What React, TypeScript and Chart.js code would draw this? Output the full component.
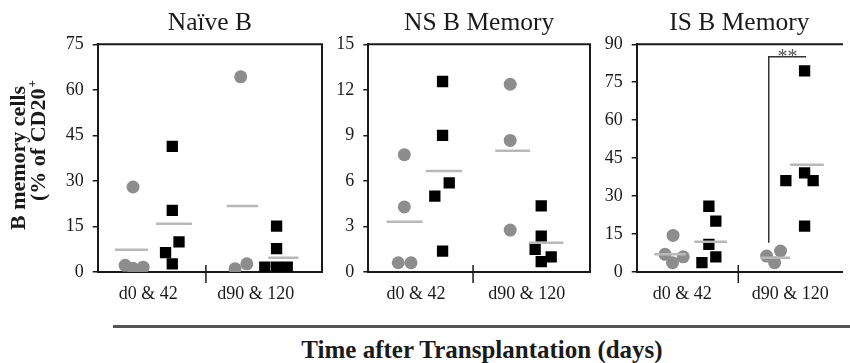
import React, { useEffect, useRef } from "react";
import { Chart, registerables } from "chart.js";

Chart.register(...registerables);

// ---------- data ----------
const panelTitles = ["Naïve B", "NS B Memory", "IS B Memory"];
const groupLabels = ["d0 & 42", "d90 & 120"];
const yTitleLines = ["B memory cells", "(% of CD20"];
const yTitleSup = "+";
const xAxisTitle = "Time after Transplantation (days)";
const yMax = [75, 15, 90];
const yStep = [15, 3, 15];
const xMax = [4.0, 4.0, 3.84];
const groupDivider = [1.93, 1.89, 1.9];
const groupLabelPos = [
  [0.9, 2.82],
  [0.86, 2.86],
  [0.85, 2.87],
];

// Naïve B
const naiveGrayX = [0.63, 0.49, 0.63, 0.81, 2.55, 2.66, 2.45];
const naiveGrayY = [28, 2.2, 1.2, 1.6, 64.3, 2.7, 1.1];
const naiveBlackX = [1.33, 1.33, 1.45, 1.21, 1.33, 3.19, 3.19, 2.98, 3.19, 3.38];
const naiveBlackY = [41.4, 20.3, 9.9, 6.4, 2.7, 15.1, 7.7, 1.6, 1.6, 1.6];
const naiveMeans = [7.3, 15.9, 21.7, 4.7];
const naiveMeanFrom = [0.31, 1.04, 2.3, 3.04];
const naiveMeanTo = [0.9, 1.68, 2.86, 3.58];

// NS B Memory
const nsGrayX = [0.65, 0.65, 0.54, 0.77, 2.56, 2.56, 2.56];
const nsGrayY = [7.73, 4.29, 0.61, 0.61, 12.37, 8.67, 2.76];
const nsBlackX = [1.34, 1.34, 1.46, 1.2, 1.34, 3.12, 3.12, 3.01, 3.3, 3.12];
const nsBlackY = [12.55, 9.0, 5.87, 5.0, 1.38, 4.36, 2.36, 1.49, 1.0, 0.68];
const nsMeans = [3.31, 6.66, 7.99, 1.93];
const nsMeanFrom = [0.33, 1.04, 2.29, 2.9];
const nsMeanTo = [0.98, 1.69, 2.92, 3.52];

// IS B Memory
const isGrayX = [0.68, 0.53, 0.87, 0.67, 2.43, 2.69, 2.58];
const isGrayY = [14.45, 7.0, 6.0, 3.7, 6.3, 8.3, 3.7];
const isBlackX = [1.35, 1.48, 1.35, 1.48, 1.22, 3.14, 3.14, 2.79, 3.3, 3.14];
const isBlackY = [26.0, 20.1, 10.9, 6.0, 3.7, 79.5, 39.2, 36.1, 36.1, 18.1];
const isMeans = [7.0, 12.0, 5.65, 42.4];
const isMeanFrom = [0.33, 1.08, 2.31, 2.87];
const isMeanTo = [0.92, 1.69, 2.87, 3.5];
const isBracketX = [2.47, 2.47, 3.17];
const isBracketY = [11.6, 85.1, 85.1];
const isSigLabel = "**";
const isSigX = 2.82;
const isSigY = 82.5;

// ---------- layout / style ----------
const SERIF = '"Liberation Serif", "Times New Roman", serif';
const INK = "#1a1a1a";
const GRAY_DOT = "#8d8d8d";
const MEAN_GRAY = "#b9b9b9";

const panelLayout = [
  { left: 0, width: 330, axisW: 97.7, padR: 8, rightBorder: true },
  { left: 330, width: 268, axisW: 38.3, padR: 8, rightBorder: true },
  { left: 598, width: 252, axisW: 38.7, padR: 0, rightBorder: false },
];
const CANVAS_H = 310;

const panelData = [
  { gx: naiveGrayX, gy: naiveGrayY, bx: naiveBlackX, by: naiveBlackY, m: naiveMeans, mf: naiveMeanFrom, mt: naiveMeanTo },
  { gx: nsGrayX, gy: nsGrayY, bx: nsBlackX, by: nsBlackY, m: nsMeans, mf: nsMeanFrom, mt: nsMeanTo },
  { gx: isGrayX, gy: isGrayY, bx: isBlackX, by: isBlackY, m: isMeans, mf: isMeanFrom, mt: isMeanTo },
];

const zip = (xs: number[], ys: number[]) => xs.map((x, i) => ({ x, y: ys[i] }));

function buildChart(canvas: HTMLCanvasElement, p: number) {
  const d = panelData[p];
  const lay = panelLayout[p];
  const datasets: any[] = [];

  d.m.forEach((mv, i) => {
    datasets.push({
      data: [
        { x: d.mf[i], y: mv },
        { x: d.mt[i], y: mv },
      ],
      showLine: true,
      pointRadius: 0,
      borderColor: MEAN_GRAY,
      borderWidth: 2.5,
    });
  });
  if (p === 2) {
    datasets.push({
      data: zip(isBracketX, isBracketY),
      showLine: true,
      pointRadius: 0,
      borderColor: "#333",
      borderWidth: 1.5,
      tension: 0,
    });
  }
  datasets.push({
    data: zip(d.bx, d.by),
    pointStyle: "rect",
    pointRadius: 8,
    backgroundColor: "#000",
    borderWidth: 0,
  });
  datasets.push({
    data: zip(d.gx, d.gy),
    pointStyle: "circle",
    pointRadius: 6.5,
    backgroundColor: GRAY_DOT,
    borderWidth: 0,
  });

  const decor = {
    id: "decor" + p,
    afterDraw(chart: any) {
      const { ctx, chartArea } = chart;
      const xs = chart.scales.x;
      const ys = chart.scales.y;
      ctx.save();
      ctx.strokeStyle = INK;
      ctx.lineWidth = 2;
      ctx.beginPath();
      ctx.moveTo(chartArea.left - 1, chartArea.top);
      ctx.lineTo(chartArea.right + 1, chartArea.top);
      if (lay.rightBorder) {
        ctx.moveTo(chartArea.right, chartArea.top);
        ctx.lineTo(chartArea.right, chartArea.bottom);
      }
      ctx.stroke();
      // group divider tick
      const dx = xs.getPixelForValue(groupDivider[p]);
      ctx.lineWidth = 1.5;
      ctx.beginPath();
      ctx.moveTo(dx, chartArea.bottom - 7);
      ctx.lineTo(dx, chartArea.bottom + 11);
      ctx.stroke();
      if (p === 2) {
        ctx.fillStyle = "#555";
        ctx.font = `20px ${SERIF}`;
        ctx.textAlign = "center";
        ctx.textBaseline = "alphabetic";
        ctx.fillText(isSigLabel, xs.getPixelForValue(isSigX), ys.getPixelForValue(isSigY));
      }
      if (p === 0) {
        ctx.fillStyle = INK;
        ctx.font = `bold 22px ${SERIF}`;
        ctx.textBaseline = "middle";
        ctx.textAlign = "left";
        ctx.save();
        ctx.translate(19.3, 230);
        ctx.rotate(-Math.PI / 2);
        ctx.fillText(yTitleLines[0], 0, 0);
        ctx.restore();
        ctx.save();
        ctx.translate(39.3, 201);
        ctx.rotate(-Math.PI / 2);
        ctx.fillText(yTitleLines[1], 0, 0);
        const w = ctx.measureText(yTitleLines[1]).width;
        ctx.font = `bold 13px ${SERIF}`;
        ctx.fillText(yTitleSup, w + 1, -7);
        ctx.restore();
      }
      ctx.restore();
    },
  };

  return new Chart(canvas, {
    type: "scatter",
    data: { datasets },
    options: {
      animation: false,
      responsive: false,
      maintainAspectRatio: false,
      events: [],
      layout: { padding: { left: 0, right: lay.padR, top: 0, bottom: 0 } },
      plugins: {
        legend: { display: false },
        tooltip: { enabled: false },
        title: {
          display: true,
          text: panelTitles[p],
          fullSize: false,
          color: INK,
          font: { family: SERIF, size: 25.5, weight: "normal", lineHeight: 1.2 },
          padding: { top: 8.4, bottom: 5.3 },
        },
      },
      scales: {
        x: {
          type: "linear",
          position: "bottom",
          min: 0,
          max: xMax[p],
          afterFit: (s: any) => {
            s.height = CANVAS_H - 272;
          },
          afterBuildTicks: (s: any) => {
            s.ticks = groupLabelPos[p].map((v) => ({ value: v }));
          },
          grid: { display: false, drawTicks: false },
          border: { display: true, color: INK, width: 2 },
          ticks: {
            autoSkip: false,
            maxRotation: 0,
            padding: 11,
            color: INK,
            font: { family: SERIF, size: 18 },
            callback: (_v: any, i: number) => groupLabels[i],
          },
        },
        y: {
          type: "linear",
          position: "left",
          min: 0,
          max: yMax[p],
          afterFit: (s: any) => {
            s.width = lay.axisW;
          },
          grid: {
            display: true,
            drawOnChartArea: false,
            drawTicks: true,
            tickLength: 5,
            color: INK,
            lineWidth: 1.5,
          },
          border: { display: true, color: INK, width: 2 },
          ticks: {
            stepSize: yStep[p],
            padding: 9,
            color: INK,
            font: { family: SERIF, size: 18 },
          },
        },
      },
    },
    plugins: [decor],
  });
}

export default function App() {
  const r0 = useRef<HTMLCanvasElement>(null);
  const r1 = useRef<HTMLCanvasElement>(null);
  const r2 = useRef<HTMLCanvasElement>(null);

  useEffect(() => {
    const refs = [r0, r1, r2];
    const charts = refs.map((r, i) => buildChart(r.current as HTMLCanvasElement, i));
    return () => charts.forEach((c) => c.destroy());
  }, []);

  const refs = [r0, r1, r2];
  return (
    <div
      style={{
        position: "absolute",
        left: 0,
        top: 0,
        width: 850,
        height: 363,
        background: "#fff",
        overflow: "hidden",
      }}
    >
      {panelLayout.map((l, i) => (
        <canvas
          key={i}
          ref={refs[i]}
          width={l.width}
          height={CANVAS_H}
          style={{ position: "absolute", left: l.left, top: 0, width: l.width, height: CANVAS_H, display: "block" }}
        />
      ))}
      <div
        style={{
          position: "absolute",
          left: 113,
          top: 325,
          width: 737,
          height: 3,
          background: "#555",
        }}
      />
      <div
        style={{
          position: "absolute",
          left: 182,
          top: 337.4,
          width: 600,
          textAlign: "center",
          fontFamily: SERIF,
          fontWeight: "bold",
          fontSize: 25,
          lineHeight: "25px",
          color: INK,
          whiteSpace: "nowrap",
        }}
      >
        {xAxisTitle}
      </div>
    </div>
  );
}
